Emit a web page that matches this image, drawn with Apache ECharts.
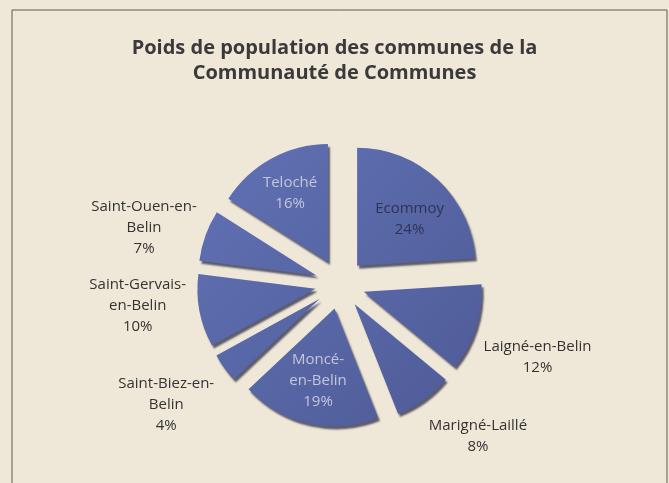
<!DOCTYPE html>
<html>
<head>
<meta charset="utf-8">
<script src="https://cdn.jsdelivr.net/npm/echarts@6/dist/echarts.min.js"></script>
<style>
  html, body { margin: 0; padding: 0; background: #efe8d8; }
  #chart { width: 669px; height: 483px; }
</style>
</head>
<body>
<div id="chart"></div>
<script>
// communes, clockwise from 12 o'clock
const communes = ['Ecommoy', 'Laigné-en-Belin', 'Marigné-Laillé', 'Moncé-en-Belin', 'Saint-Biez-en-Belin', 'Saint-Gervais-en-Belin', 'Saint-Ouen-en-Belin', 'Teloché']
const poids = [24, 12, 8, 19, 4, 10, 7, 16]

// how the labels are broken in the picture
const wrapped = {
  'Ecommoy': 'Ecommoy',
  'Laigné-en-Belin': 'Laigné-en-Belin',
  'Marigné-Laillé': 'Marigné-Laillé',
  'Moncé-en-Belin': 'Moncé-\nen-Belin',
  'Saint-Biez-en-Belin': 'Saint-Biez-en-\nBelin',
  'Saint-Gervais-en-Belin': 'Saint-Gervais-\nen-Belin',
  'Saint-Ouen-en-Belin': 'Saint-Ouen-en-\nBelin',
  'Teloché': 'Teloché',
}
const inside = ['Ecommoy', 'Moncé-en-Belin', 'Teloché']

// nudge from the default label spot (best fit, like the original)
const labelShift = {
  'Ecommoy': [10, -1],
  'Laigné-en-Belin': [37, 26],
  'Marigné-Laillé': [33, 28],
  'Moncé-en-Belin': [-3, 12],
  'Saint-Biez-en-Belin': [-35, 31],
  'Saint-Gervais-en-Belin': [-37, -7],
  'Saint-Ouen-en-Belin': [-37, -4],
  'Teloché': [-8, -15],
}

const chart = echarts.init(document.getElementById('chart'))

const sliceColor = {
  type: 'linear', x: 190, y: 140, x2: 490, y2: 430, global: true,
  colorStops: [
    { offset: 0, color: '#6274b8' },
    { offset: 1, color: '#4d5893' },
  ],
}

const data = communes.map((name, i) => {
  const isIn = inside.indexOf(name) >= 0
  return {
    name,
    value: poids[i],
    selected: true,
    label: isIn ? {
      position: 'inside',
      color: name === 'Ecommoy' ? '#2d3454' : '#c4c6da',
    } : { position: 'outside' },
  }
})

const options = {
  backgroundColor: '#efe8d8',
  title: {
    text: 'Poids de population des communes de la\nCommunauté de Communes',
    left: 'center',
    top: 31,
    textStyle: {
      fontFamily: 'Open Sans',
      fontWeight: 'bold',
      fontSize: 20,
      lineHeight: 25,
      color: '#3b3a3a',
    },
  },
  graphic: [
    {
      type: 'rect',
      shape: { x: 12, y: 10, width: 655, height: 490 },
      style: { fill: 'none', stroke: '#5a5a5a', lineWidth: 1 },
      silent: true,
    },
  ],
  series: [
    {
      type: 'pie',
      center: [340, 284],
      radius: 118,
      startAngle: 90,
      clockwise: true,
      selectedMode: 'multiple',
      selectedOffset: 25,
      avoidLabelOverlap: false,
      animation: false,
      itemStyle: {
        color: sliceColor,
        shadowColor: 'rgba(30,30,60,0.7)',
        shadowBlur: 2,
        shadowOffsetX: 2,
        shadowOffsetY: 3,
      },
      select: {
        itemStyle: { color: sliceColor },
      },
      emphasis: { disabled: true },
      label: {
        show: true,
        fontFamily: 'Open Sans',
        fontSize: 15,
        lineHeight: 21,
        color: '#333',
        formatter: (p) => wrapped[p.name] + '\n' + p.value + '%',
      },
      labelLine: { show: false, length: 10, length2: 10 },
      labelLayout: (params) => {
        const d = labelShift[communes[params.dataIndex]]
        return {
          dx: d[0],
          dy: d[1],
          align: 'center',
          verticalAlign: 'middle',
          hideOverlap: false,
        }
      },
      data,
    },
  ],
}

chart.setOption(options)
</script>
</body>
</html>
